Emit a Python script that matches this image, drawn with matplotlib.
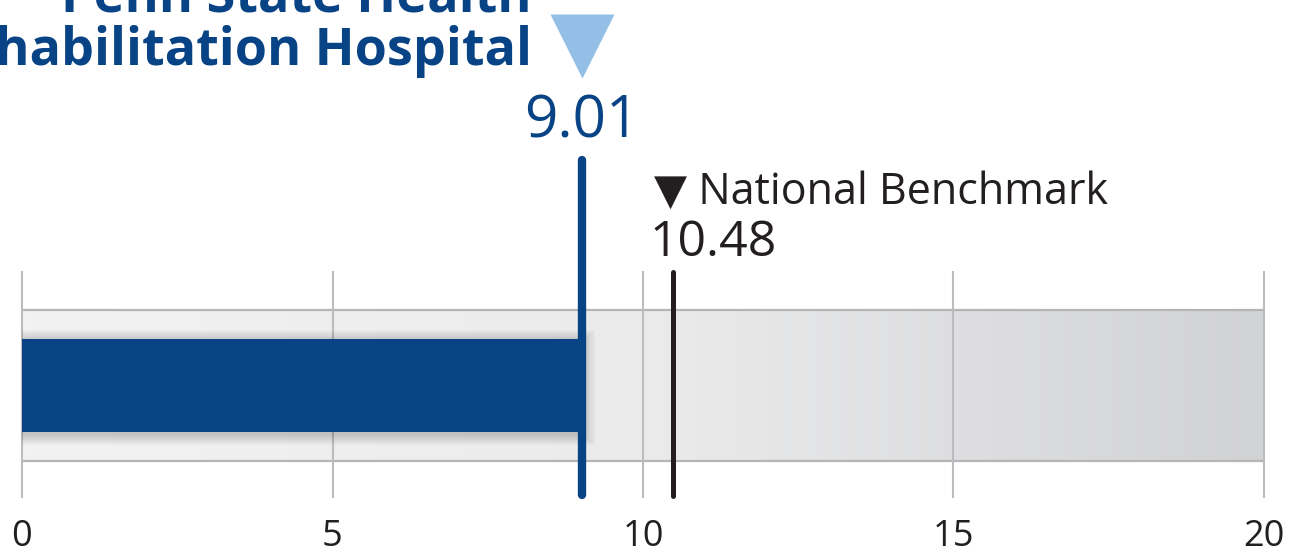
import numpy as np
import matplotlib
matplotlib.use("Agg")
import matplotlib.pyplot as plt
from matplotlib.patches import Rectangle

# data
hospital_name = "Penn State Health\nRehabilitation Hospital"
hospital_value = 9.01
benchmark_label = "National Benchmark"
benchmark_value = 10.48
axis_min, axis_max = 0, 20
ticks = [0, 5, 10, 15, 20]

blue = "#074385"
light_blue = "#93bfe6"
dark = "#231f20"
grid_gray = "#bcbcbf"

plt.rcParams["font.family"] = ["Open Sans", "DejaVu Sans"]

fig = plt.figure(figsize=(12.95, 5.54), dpi=100)
ax = fig.add_axes([0, 0, 1, 1])
# x in data units, y in pixels from the top
px = 1242 / (axis_max - axis_min)
ax.set_xlim(axis_min - 22 / px, axis_min + (1295 - 22) / px)
ax.set_ylim(554, 0)
ax.axis("off")

# background band with gradient
grad = np.linspace(0, 1, 256).reshape(1, -1)
cmap = matplotlib.colors.LinearSegmentedColormap.from_list("bg", ["#f2f2f2", "#ebebec", "#d1d2d4"])
ax.imshow(grad, cmap=cmap, aspect="auto", extent=(axis_min, axis_max, 461, 310), zorder=1)
ax.hlines([310, 461], axis_min, axis_max, color="#b5b5b8", lw=1.6, zorder=2)

# grid lines
ax.vlines(ticks, 271, 498, color=grid_gray, lw=1.5, zorder=2)
for t in ticks:
    ax.text(t, 546, str(t), ha="center", va="baseline", fontsize=26, color=dark)

# soft shadow of the value bar
for i in range(1, 12):
    ax.add_patch(Rectangle((axis_min, 339 - i * 1.0 + 2), hospital_value + i * 0.02,
                           93 + i * 2.0, color="#404040", alpha=0.022, lw=0, zorder=3))
ax.add_patch(Rectangle((axis_min, 339), hospital_value, 93, color=blue, lw=0, zorder=4))

# hospital marker
ax.plot([hospital_value, hospital_value], [160, 495], color=blue, lw=6, solid_capstyle="round", zorder=5)
ax.plot(hospital_value, 46, marker="v", markersize=46, color=light_blue, mec="none", zorder=5)
ax.text(hospital_value, 138, f"{hospital_value:.2f}", ha="center", va="baseline", fontsize=42, color=blue)
ax.text(hospital_value - 0.8, 78, hospital_name, ha="right", va="bottom", multialignment="right",
        fontsize=37.5, fontweight="bold", color=blue, linespacing=1.0)

# benchmark marker
ax.plot([benchmark_value, benchmark_value], [272, 496], color=dark, lw=3.6, solid_capstyle="round", zorder=5)
ax.text(benchmark_value - 0.3, 204, "\u25bc " + benchmark_label, ha="left", va="baseline",
        fontsize=31, color=dark)
ax.text(benchmark_value - 0.37, 256, f"{benchmark_value:.2f}", ha="left", va="baseline",
        fontsize=36, color=dark)

fig.savefig("out.png", dpi=100)
